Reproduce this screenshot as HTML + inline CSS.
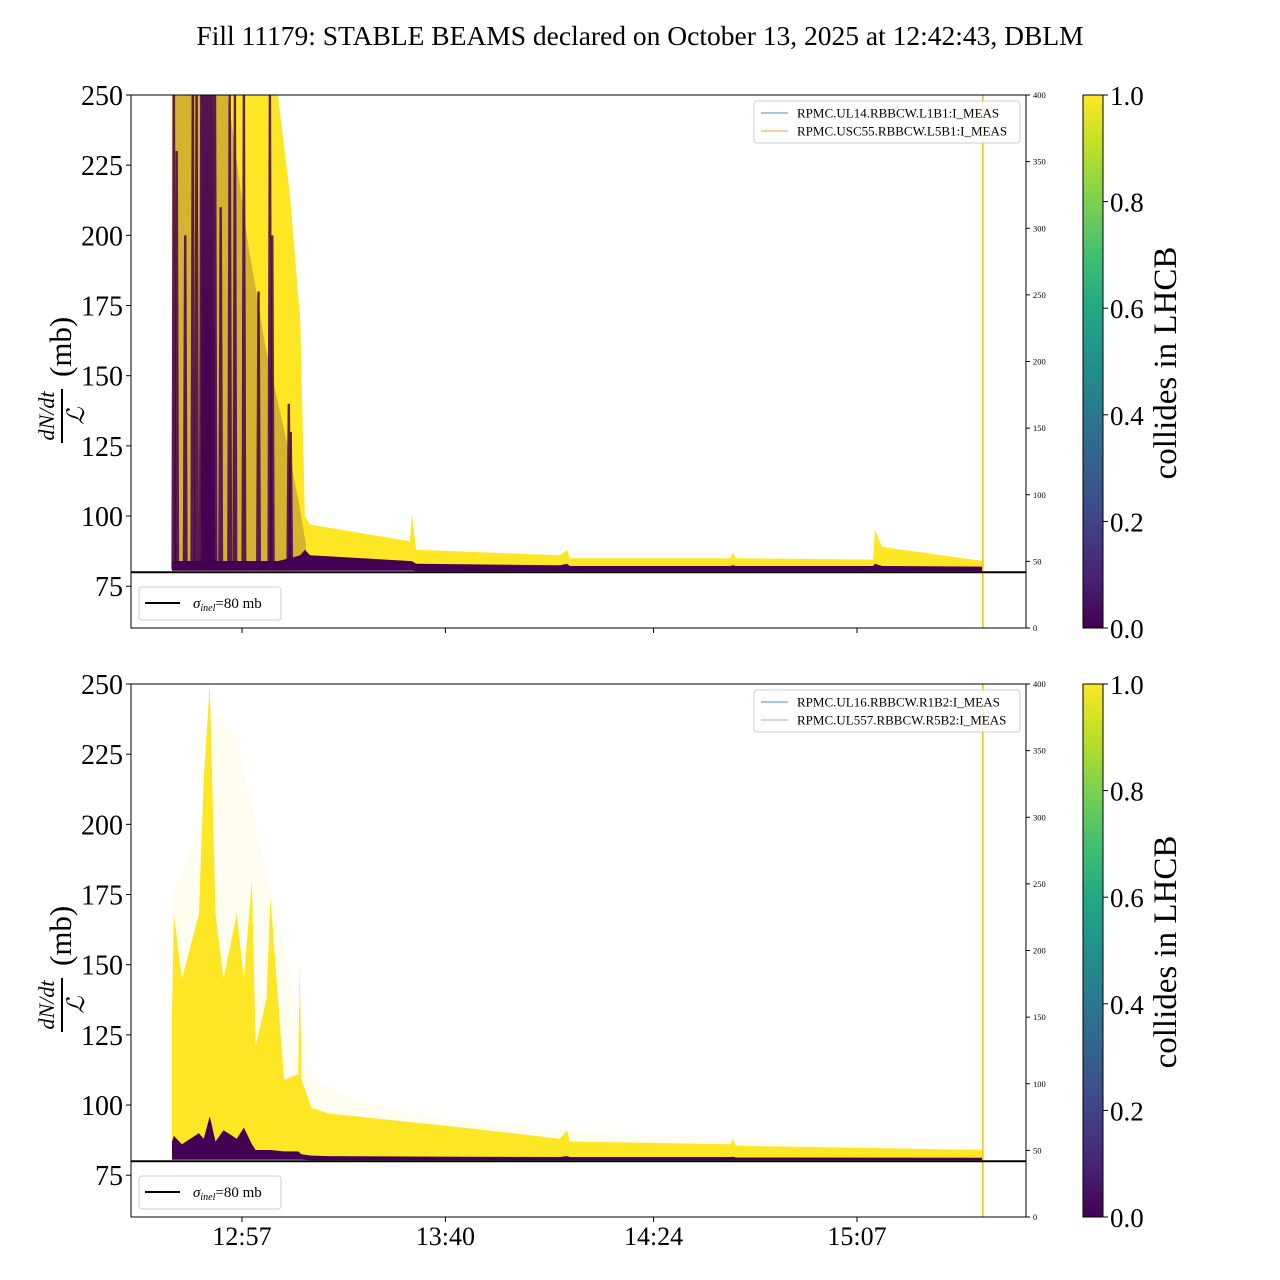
<!DOCTYPE html>
<html><head><meta charset="utf-8">
<style>
html,body{margin:0;padding:0;background:#fff;}
svg{display:block;font-family:"Liberation Serif","DejaVu Serif",serif;}
</style></head>
<body>
<svg id="fig" width="1280" height="1280" viewBox="0 0 1280 1280" xmlns="http://www.w3.org/2000/svg">
<defs>
<linearGradient id="viridis" x1="0" y1="1" x2="0" y2="0">
<stop offset="0" stop-color="#440154"/><stop offset="0.1" stop-color="#482475"/>
<stop offset="0.2" stop-color="#414487"/><stop offset="0.3" stop-color="#355f8d"/>
<stop offset="0.4" stop-color="#2a788e"/><stop offset="0.5" stop-color="#21918c"/>
<stop offset="0.6" stop-color="#22a884"/><stop offset="0.7" stop-color="#44bf70"/>
<stop offset="0.8" stop-color="#7ad151"/><stop offset="0.9" stop-color="#bddf26"/>
<stop offset="1" stop-color="#fde725"/>
</linearGradient>
<clipPath id="clipTop"><rect x="131" y="95" width="895" height="533"/></clipPath>
<clipPath id="clipBot"><rect x="131" y="684" width="895" height="533"/></clipPath>
</defs>
<text x="640" y="45" font-size="27.5" text-anchor="middle">Fill 11179: STABLE BEAMS declared on October 13, 2025 at 12:42:43, DBLM</text>
<g id="panels"></g>
</svg>
<script>
// ---- data (time in minutes after 12:00, values in mb) ----
const yTicks = [75,100,125,150,175,200,225,250];
const rTicks = [0,50,100,150,200,250,300,350,400];
const xTickTimes = [57,100,144,187];
const xTickLabels = ["12:57","13:40","14:24","15:07"];
const cbTicks = [0.0,0.2,0.4,0.6,0.8,1.0];
const beamEnd = 213.6;

// top panel (beam 1)
const topTimes   = [42.2,64.6,67.1,69.3,70.3,71.4,92.5,92.9,93.8,124.2,125.7,126.3,160.2,160.8,161.4,190.4,190.8,192.3,213.6];
const topYellowHi= [250,250,215,170,100,97,91,101,88,86,88,85,85,87,85,84.5,95,89,84];
const topYellowLo= [82,82,82,82,82.5,82,82,82,81.5,81.5,81.5,81.5,81.5,81.5,81.5,81.5,81.5,81.5,81.5];
const topPurpleHi= [84,84,85,86,88,86,84,84,83,82.5,83,82.2,82.2,82.5,82.2,82.2,83,82.2,82];
const topPurpleLo= [80.5,80.5,80.5,80.5,80.5,80.5,80.5,80.5,80.3,80.3,80.3,80.3,80.3,80.3,80.3,80.3,80.3,80.3,80.3];
const topHazeTimes = [42.2,48,54,58,62,66,69,70.5];
const topHazeHi    = [250,250,250,200,160,130,105,90];
const topSpikeTimes= [42.6,43.2,45.0,46.6,47.4,48.4,48.8,49.2,49.6,50.0,50.4,50.8,51.3,52.5,54.4,55.5,57.4,60.5,62.9,63.4,66.9,67.3];
const topSpikeTops = [250,230,200,250,250,250,250,250,250,250,250,250,250,210,250,250,250,180,250,200,140,130];

// bottom panel (beam 2)
const botTimes   = [42.2,42.6,44.3,47.9,48.9,50.2,51.4,53.1,55.9,57.4,59.1,59.9,62.2,63.0,65.9,68.9,69.2,69.6,71.7,75.3,103.5,124.2,125.7,126.3,160.2,160.8,161.4,213.6];
const botYellowHi= [133,168,145,168,216,250,168,145,168,145,180,121,138,174,109,111,150,109,99,97,92,88,91,87,86,88,85.5,84];
const botYellowLo= [81,81,81,81,81,81,81,81,81,81,81,81,81,81,81,81,81,81,81,81,81,81,81,81,81,81,81,81];
const botPurpleHi= [87,89,86,90,88,96,87,91,88,92,86,84,84,84,83.5,83.5,83,82.5,82,81.8,81.6,81.5,81.8,81.5,81.5,81.6,81.3,81.2];
const botPurpleLo= [80.5,80.5,80.5,80.5,80.5,80.5,80.5,80.5,80.5,80.5,80.5,80.5,80.5,80.5,80.5,80.5,80.5,80.5,80.3,80.3,80.3,80.3,80.3,80.3,80.3,80.3,80.3,80.3];
const botHazeTimes = [42.2,45,48,52,56,60,64,68,72,80,100,130,170,213.6];
const botHazeHi    = [175,185,200,240,230,200,170,140,110,102,95,90,87,85];

// ---- scales ----
const X0=131, X1=1026, TMIN=33.54, PXM=4.7308, YPX=2.807;
function xs(t){return X0+(t-TMIN)*PXM;}
function ys(v,top){return top+(250-v)*YPX;}
function rs(v,top){return top+533-(v/400)*533;}

const NS="http://www.w3.org/2000/svg";
const root=document.getElementById('panels');
function mk(tag,attrs,parent){const e=document.createElementNS(NS,tag);for(const k in attrs)e.setAttribute(k,attrs[k]);(parent||root).appendChild(e);return e;}

function band(times,hi,lo,top,fill,op,parent){
  let pts=[];
  for(let i=0;i<times.length;i++)pts.push(xs(times[i]).toFixed(1)+','+ys(hi[i],top).toFixed(1));
  for(let i=times.length-1;i>=0;i--)pts.push(xs(times[i]).toFixed(1)+','+ys(lo[i],top).toFixed(1));
  return mk('polygon',{points:pts.join(' '),fill:fill,'fill-opacity':op},parent);
}

function panel(top,idx,cfg){
  const g=mk('g',{});
  
  
  const plot=mk('g',{'clip-path':idx===0?'url(#clipTop)':'url(#clipBot)'},g);
  
  
  const hz=band(cfg.hazeT,cfg.hazeHi,cfg.hazeT.map(()=>80.5),top,cfg.hazeColor,cfg.hazeOp,plot);
  
  
  const yb=band(cfg.t,cfg.yHi,cfg.yLo,top,'#fde725',1,plot);
  
  
  if(cfg.purpleHaze){
    const ph=band(cfg.purpleHaze[0],cfg.purpleHaze[1],cfg.purpleHaze[0].map(()=>80.5),top,'#440154',0.22,plot);
    
    
  }
  const pb=band(cfg.t,cfg.pHi,cfg.pLo,top,'#440154',1,plot);
  
  
  if(cfg.spT){
    for(let i=0;i<cfg.spT.length;i++){
      const x=xs(cfg.spT[i]);
      const s=mk('polygon',{points:(x-2.5)+','+ys(81,top)+' '+(x+2.5)+','+ys(81,top)+' '+(x+1.2)+','+ys(cfg.spTop[i],top)+' '+(x-1.2)+','+ys(cfg.spTop[i],top),fill:'#440154','fill-opacity':0.85},plot);
      
      
    }
  }
  const vl=mk('line',{x1:xs(beamEnd),x2:xs(beamEnd),y1:top,y2:top+533,stroke:'#e8c420','stroke-width':1.6},plot);
  
  
  const sl=mk('line',{x1:X0,x2:X1,y1:ys(80,top),y2:ys(80,top),stroke:'#000','stroke-width':2},plot);
  
  
  const fr=mk('rect',{x:X0,y:top,width:X1-X0,height:533,fill:'none',stroke:'#000','stroke-width':1},g);
  
  
  yTicks.forEach(v=>{
    const y=ys(v,top);
    mk('line',{x1:X0-5,x2:X0,y1:y,y2:y,stroke:'#000'},g);
    const t=mk('text',{x:X0-8,y:y+10,'font-size':28,'text-anchor':'end'},g);
    t.textContent=v;
    
    
  });
  rTicks.forEach(v=>{
    const y=rs(v,top);
    mk('line',{x1:X1,x2:X1+4,y1:y,y2:y,stroke:'#000'},g);
    const t=mk('text',{x:X1+7,y:y+3,'font-size':8.5},g);
    t.textContent=v;
    
    
  });
  xTickTimes.forEach((tm,i)=>{
    const x=xs(tm);
    mk('line',{x1:x,x2:x,y1:top+533,y2:top+538,stroke:'#000'},g);
    if(idx===1){
      const t=mk('text',{x:x,y:top+533+28,'font-size':26,'text-anchor':'middle'},g);
      t.textContent=xTickLabels[i];
      
      
    }
  });
  const yl=mk('g',{transform:'translate(60,'+(top+266)+') rotate(-90)'},g);
  
  
  const num=mk('text',{x:-55,y:-6,'font-size':22,'font-style':'italic','text-anchor':'middle'},yl);num.textContent='dN/dt';
  mk('line',{x1:-82,x2:-28,y1:2,y2:2,stroke:'#000','stroke-width':2},yl);
  const den=mk('text',{x:-55,y:24,'font-size':24,'font-style':'italic','text-anchor':'middle'},yl);den.textContent='ℒ';
  const mb=mk('text',{x:-16,y:11,'font-size':31},yl);mb.textContent='(mb)';
  const lg=mk('g',{},g);
  
  
  mk('rect',{x:754,y:top+6,width:266,height:42,rx:3,fill:'#fff','fill-opacity':0.85,stroke:'#ccc'},lg);
  cfg.leg.forEach((e,i)=>{
    const y=top+18+i*18;
    mk('line',{x1:761,x2:788,y1:y,y2:y,stroke:e[1],'stroke-width':1,'stroke-opacity':0.8},lg);
    const t=mk('text',{x:797,y:y+4.5,'font-size':13},lg);t.textContent=e[0];
    
    
  });
  const sg=mk('g',{},g);
  
  
  mk('rect',{x:139,y:top+492,width:142,height:33,rx:3,fill:'#fff',stroke:'#ccc'},sg);
  mk('line',{x1:145,x2:180,y1:top+508,y2:top+508,stroke:'#000','stroke-width':2},sg);
  const st=mk('text',{x:193,y:top+513,'font-size':15},sg);
  st.innerHTML='<tspan font-style="italic">σ</tspan><tspan font-style="italic" font-size="10" dy="3">inel</tspan><tspan dy="-3">=80 mb</tspan>';
  const cb=mk('g',{},g);
  
  
  mk('rect',{x:1083,y:top,width:20,height:533,fill:'url(#viridis)',stroke:'#000','stroke-width':1},cb);
  cbTicks.forEach(v=>{
    const y=top+533-v*533;
    mk('line',{x1:1103,x2:1108,y1:y,y2:y,stroke:'#000'},cb);
    const t=mk('text',{x:1110,y:y+10,'font-size':27},cb);t.textContent=v.toFixed(1);
    
    
  });
  const ct=mk('text',{x:0,y:0,'font-size':33,'text-anchor':'middle',transform:'translate(1176,'+(top+268)+') rotate(-90)'},cb);
  ct.textContent='collides in LHCB';
  
  
}

panel(95,0,{t:topTimes,yHi:topYellowHi,yLo:topYellowLo,pHi:topPurpleHi,pLo:topPurpleLo,
  hazeT:topHazeTimes,hazeHi:topHazeHi,hazeColor:'#fde725',hazeOp:1,
  purpleHaze:[topHazeTimes,topHazeHi],
  spT:topSpikeTimes,spTop:topSpikeTops,
  leg:[['RPMC.UL14.RBBCW.L1B1:I_MEAS','#1f77b4'],['RPMC.USC55.RBBCW.L5B1:I_MEAS','#ff7f0e']]});
panel(684,1,{t:botTimes,yHi:botYellowHi,yLo:botYellowLo,pHi:botPurpleHi,pLo:botPurpleLo,
  hazeT:botHazeTimes,hazeHi:botHazeHi,hazeColor:'#fde725',hazeOp:0.07,
  leg:[['RPMC.UL16.RBBCW.R1B2:I_MEAS','#1f77b4'],['RPMC.UL557.RBBCW.R5B2:I_MEAS','#999999']]});
</script>
</body></html>
